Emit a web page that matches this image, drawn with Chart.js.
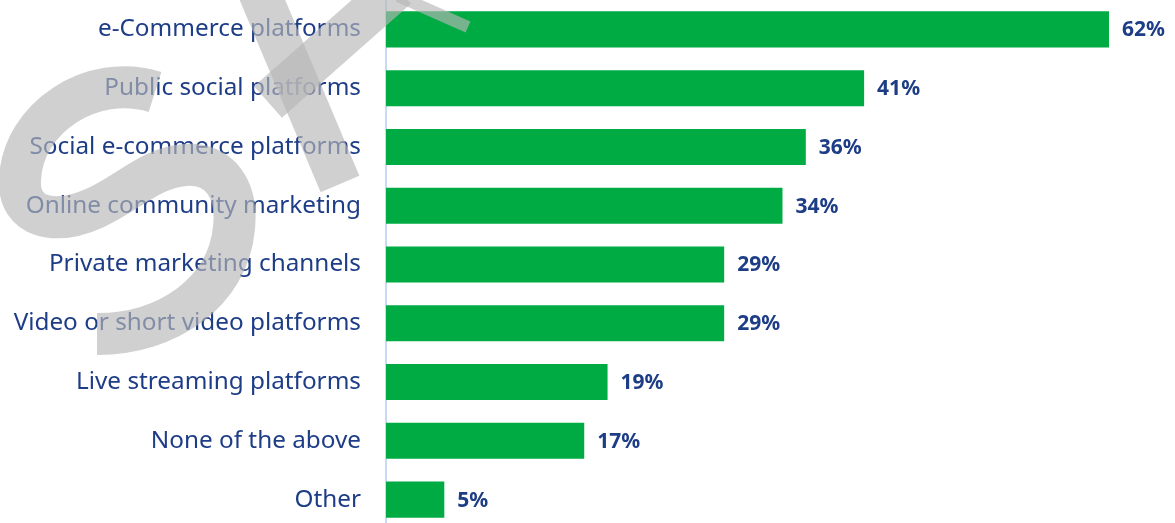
<!DOCTYPE html>
<html>
<head>
<meta charset="utf-8">
<script src="https://cdn.jsdelivr.net/npm/chart.js@4.4.1/dist/chart.umd.min.js"></script>
<style>
  html, body { margin: 0; padding: 0; background: #ffffff; overflow: hidden; }
  #wrap { position: relative; width: 1175px; height: 529px; }
</style>
</head>
<body>
<div id="wrap"><canvas id="chart"></canvas></div>
<script>
;
(function(window, document) {
    'use strict';

    const categories = [
        'e-Commerce platforms',
        'Public social platforms',
        'Social e-commerce platforms',
        'Online community marketing',
        'Private marketing channels',
        'Video or short video platforms',
        'Live streaming platforms',
        'None of the above',
        'Other'
    ];
    const shares = [62, 41, 36, 34, 29, 29, 19, 17, 5];

    const barGreen = '#00ab44';
    const textBlue = '#1e3d87';
    const fontFamily = '"Noto Sans", "Open Sans", sans-serif';

    // value labels at the end of every bar
    let valueLabels = {
        id: 'valueLabels',
        afterDatasetsDraw: function(chart) {
            let ctx = chart.ctx;
            let meta = chart.getDatasetMeta(0);
            ctx.save();
            ctx.font = 'bold 21px ' + fontFamily;
            ctx.fillStyle = textBlue;
            ctx.textAlign = 'left';
            ctx.textBaseline = 'middle';
            meta.data.forEach(function(bar, i) {
                ctx.fillText(shares[i] + '%', bar.x + 13, bar.y + 1);
            });
            ctx.restore();
        }
    };

    // grey "SX" watermark laid over everything
    let watermark = {
        id: 'watermark',
        afterDraw: function(chart) {
            let ctx = chart.ctx;
            ctx.save();
            ctx.globalAlpha = 0.65;
            ctx.strokeStyle = '#b7b7b7';
            ctx.lineWidth = 42;
            ctx.lineCap = 'butt';
            ctx.lineJoin = 'round';

            // S
            ctx.beginPath();
            ctx.moveTo(155, 92);
            ctx.bezierCurveTo(92, 72, 22, 118, 20, 180);
            ctx.bezierCurveTo(18, 218, 55, 226, 95, 208);
            ctx.bezierCurveTo(130, 192, 150, 168, 185, 165);
            ctx.bezierCurveTo(220, 162, 238, 190, 234, 228);
            ctx.bezierCurveTo(228, 292, 168, 334, 97, 334);
            ctx.stroke();

            // X
            ctx.beginPath();
            ctx.moveTo(254, -20);
            ctx.lineTo(340, 184);
            ctx.stroke();
            ctx.beginPath();
            ctx.moveTo(268, 102);
            ctx.lineTo(397, -12);
            ctx.stroke();

            // edge of the next letter, cut by the top border
            ctx.lineWidth = 12;
            ctx.beginPath();
            ctx.moveTo(398, -4);
            ctx.lineTo(468, 27);
            ctx.stroke();
            ctx.restore();
        }
    };

    new Chart(document.getElementById('chart'), {
        type: 'bar',
        data: {
            labels: categories,
            datasets: [{
                data: shares,
                backgroundColor: barGreen,
                barPercentage: 0.613,
                categoryPercentage: 1.0
            }]
        },
        options: {
            indexAxis: 'y',
            responsive: true,
            maintainAspectRatio: false,
            animation: false,
            layout: { padding: { top: 0, right: 66, bottom: 0, left: 0 } },
            plugins: {
                legend: { display: false },
                tooltip: { enabled: false }
            },
            scales: {
                x: {
                    display: false,
                    min: 0,
                    max: 62
                },
                y: {
                    afterFit: function(scale) {
                        scale.width = 386;
                        scale.paddingTop = 0;
                        scale.paddingBottom = 0;
                    },
                    grid: { display: true, drawOnChartArea: false, drawTicks: false },
                    border: { display: true, color: '#c9dbf3', width: 2 },
                    ticks: {
                        padding: 25,
                        color: textBlue,
                        font: { family: fontFamily, size: 24.3 }
                    }
                }
            }
        },
        plugins: [valueLabels, watermark]
    });

})(window, document);
</script>
</body>
</html>
